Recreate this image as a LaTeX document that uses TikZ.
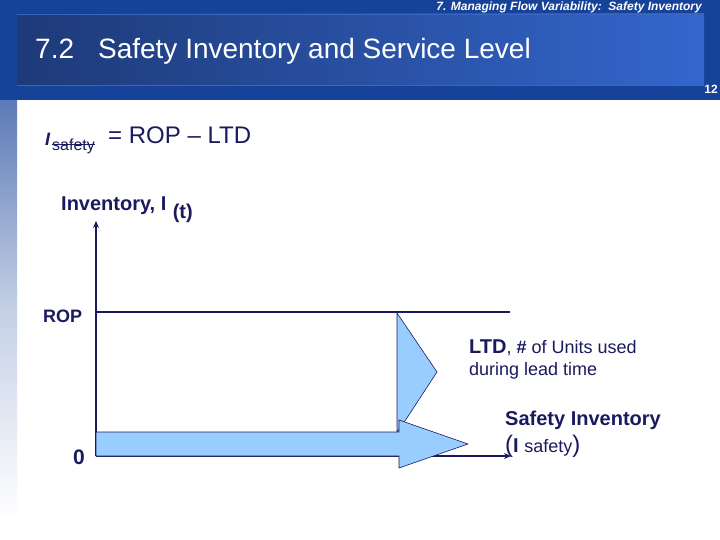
\documentclass[tikz,border=0pt]{standalone}
\usepackage{fontspec}
\setmainfont{Liberation Sans}
\usetikzlibrary{positioning,arrows.meta}
\definecolor{inkblue}{HTML}{1A1A5E}
\definecolor{bandblue}{HTML}{16429A}
\definecolor{paneldark}{HTML}{1E3A78}
\definecolor{panellight}{HTML}{3366CC}
\definecolor{rimblue}{HTML}{3A66C0}
\definecolor{fillblue}{HTML}{99CCFF}
\tikzset{
  label/.style={inner sep=0pt,anchor=west,text=inkblue},
  axisline/.style={draw=inkblue,line width=1.6pt},
  blockarrow/.style={draw=inkblue,line width=0.6pt,fill=fillblue,line join=miter},
}
\begin{document}
\begin{tikzpicture}[x=1pt,y=-1pt]
      \useasboundingbox (0,0) rectangle (720,540);
      \fill[white] (0,0) rectangle (720,540);
      % page bands
      \shade[top color=bandblue!70!white,bottom color=white,middle color=bandblue!25!white] (0,100) rectangle (17,520);
      \fill[bandblue] (0,0) rectangle (720,100);
      \shade[left color=paneldark,right color=panellight] (17,14) rectangle (704,85);
      \draw[rimblue,line width=0.7pt] (17,14) -- (704,14);
      \draw[rimblue,line width=0.7pt] (17,85) -- (704,85);
      \node[inner sep=0pt,anchor=east,text=white,font=\fontsize{12}{14}\selectfont\bfseries\itshape] (Header) at (702,7.5) {7. Managing Flow Variability:\ \ Safety Inventory};
      \node[inner sep=0pt,anchor=west,text=white,font=\fontsize{28}{32}\selectfont] (Title) at (35,51) {7.2\hspace{24pt}Safety Inventory and Service Level};
      \node[inner sep=0pt,anchor=east,text=white,font=\fontsize{12}{14}\selectfont\bfseries] (Page) at (718,89.5) {12};

      % formula
      \node[label,font=\fontsize{18}{21}\selectfont\bfseries\itshape] (Isym) at (45,139) {I};
      \node[label,font=\fontsize{16}{19}\selectfont] (Safety) at (52,146) {safety};
      \draw[inkblue,line width=0.9pt] (Safety.west |- 0,144.7) -- (Safety.east |- 0,144.7);
      \node[label,font=\fontsize{24}{28}\selectfont] (Formula) at (108,135) {= ROP – LTD};

      % axes
      \coordinate (Origin) at (96,456);
      \coordinate (AxisTop) at (96,221);
      \coordinate (AxisEnd) at (511,456);
      \coordinate (RopStart) at (96,312);
      \coordinate (RopEnd) at (510,312);
      \draw[axisline,-{Stealth[length=7pt,width=6pt]}] (Origin) -- (AxisTop);
      \draw[axisline,-{Stealth[length=7pt,width=6pt]}] (Origin) -- (AxisEnd);
      \draw[axisline] (RopStart) -- (RopEnd);

      % demand and safety arrows
      \draw[blockarrow] (397,313) -- (437,372) -- (403,424) -- (397,432) -- cycle;
      \draw[blockarrow] (96,432) -- (399,432) -- (399,420) -- (468,444) -- (399,468) -- (399,456) -- (96,456) -- cycle;

      % labels
      \node[label,font=\fontsize{20}{24}\selectfont\bfseries] (Inv) at (61,205.5) {Inventory, I};
      \node[label,font=\fontsize{20}{24}\selectfont\bfseries,right=6pt of Inv.east,yshift=-7.5pt] (InvT) {(t)};
      \node[label,font=\fontsize{18}{21}\selectfont\bfseries] (Rop) at (43,316) {ROP};
      \node[label,font=\fontsize{21}{25}\selectfont\bfseries] (Zero) at (73,457) {0};
      \node[label] (Ltd) at (469,348) {\fontsize{20}{24}\selectfont\bfseries LTD\fontsize{18}{21}\selectfont\mdseries, \textbf{\#} of Units used};
      \node[label,font=\fontsize{18}{21}\selectfont] (Lead) at (469,370.5) {during lead time};
      \node[label,font=\fontsize{20}{24}\selectfont\bfseries] (SafeInv) at (505,420) {Safety Inventory};
      \node[label] (SafeI) at (505,446) {\fontsize{24}{28}\selectfont(\fontsize{20}{24}\selectfont\bfseries I \fontsize{18}{21}\selectfont\mdseries safety\fontsize{24}{28}\selectfont)};
    \end{tikzpicture}
\end{document}
